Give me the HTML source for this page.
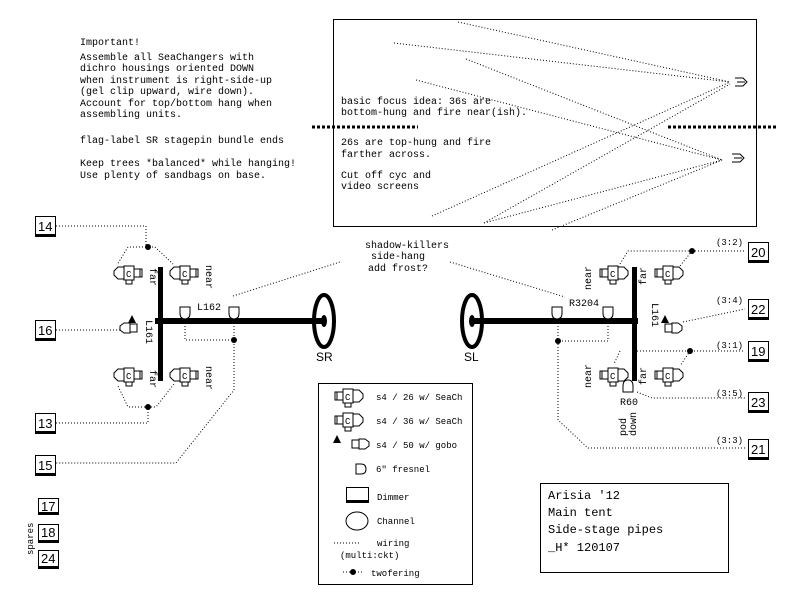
<!DOCTYPE html>
<html><head><style>
body{margin:0;background:#fff}
svg{display:block}
text{font-family:"Liberation Mono",monospace;font-size:10px;fill:#000}
.d{stroke:#000;stroke-width:1;stroke-dasharray:1 2;fill:none}
.s{stroke:#000;fill:#fff;stroke-width:1}
.lg{font-size:9px}
</style></head><body>
<svg width="800" height="600" viewBox="0 0 800 600">
<defs>
<g id="fl">
<path class="s" d="M-16,-2 L-12,-6 L-6,-6 L-6,6 L-12,6 L-16,2 Z"/>
<rect class="s" x="-6" y="-7" width="10" height="14"/>
<rect class="s" x="-4" y="7" width="6" height="4"/>
<rect class="s" x="4" y="-4" width="8" height="8"/>
<line x1="10" y1="-4" x2="10" y2="4" stroke="#000"/>
<text x="-4" y="4" style="font-size:9px">C</text>
</g>
<g id="fr">
<path class="s" d="M16,-2 L12,-6 L6,-6 L6,6 L12,6 L16,2 Z"/>
<rect class="s" x="-4" y="-7" width="10" height="14"/>
<rect class="s" x="-2" y="7" width="6" height="4"/>
<rect class="s" x="-12" y="-4" width="8" height="8"/>
<line x1="-10" y1="-4" x2="-10" y2="4" stroke="#000"/>
<text x="-2" y="4" style="font-size:9px">C</text>
</g>
<g id="fz"><path class="s" d="M-5,-6 L5,-6 L5,0 Q5,6 0,6 Q-5,6 -5,0 Z"/></g>
<g id="gob"><path class="s" d="M-12,-2 L-8,-5 L-2,-5 L-2,5 L-8,5 L-12,2 Z"/><rect class="s" x="-2" y="-4" width="7" height="8"/></g>
</defs>

<text x="80" y="45">Important!</text>
<text x="80" y="60">Assemble all SeaChangers with</text>
<text x="80" y="71">dichro housings oriented DOWN</text>
<text x="80" y="83">when instrument is right-side-up</text>
<text x="80" y="94">(gel clip upward, wire down).</text>
<text x="80" y="106">Account for top/bottom hang when</text>
<text x="80" y="117">assembling units.</text>
<text x="80" y="143">flag-label SR stagepin bundle ends</text>
<text x="80" y="166">Keep trees *balanced* while hanging!</text>
<text x="80" y="178">Use plenty of sandbags on base.</text>

<rect x="333.5" y="19.5" width="423" height="207" fill="none" stroke="#000"/>
<line x1="312" y1="127" x2="418" y2="127" stroke="#000" stroke-width="3" stroke-dasharray="3 2"/>
<line x1="668" y1="127" x2="778" y2="127" stroke="#000" stroke-width="3" stroke-dasharray="3 2"/>
<text x="341" y="104">basic focus idea: 36s are</text>
<text x="341" y="115">bottom-hung and fire near(ish).</text>
<text x="341" y="145">26s are top-hung and fire</text>
<text x="341" y="157">farther across.</text>
<text x="341" y="178">Cut off cyc and</text>
<text x="341" y="189">video screens</text>
<g class="d">
<line x1="458" y1="22" x2="730" y2="82"/>
<line x1="394" y1="43" x2="730" y2="82"/>
<line x1="466" y1="59" x2="722" y2="160"/>
<line x1="416" y1="80" x2="722" y2="160"/>
<line x1="432" y1="216" x2="730" y2="82"/>
<line x1="484" y1="223" x2="730" y2="84"/>
<line x1="484" y1="223" x2="722" y2="160"/>
<line x1="552" y1="230" x2="722" y2="160"/>
</g>
<path d="M735,78 h8 l4,4 l-4,4 h-8 M737,82 h8" fill="none" stroke="#000"/>
<path d="M732,154 h8 l4,4 l-4,4 h-8 M734,158 h8" fill="none" stroke="#000"/>

<g fill="#fff" stroke="#000">
<rect x="35.5" y="216.5" width="20" height="18"/><rect x="35.5" y="320.5" width="20" height="18"/>
<rect x="35.5" y="413.5" width="20" height="18"/><rect x="35.5" y="455.5" width="20" height="18"/>
<rect x="748.5" y="242.5" width="20" height="18"/><rect x="748.5" y="299.5" width="20" height="18"/>
<rect x="748.5" y="341.5" width="20" height="18"/><rect x="748.5" y="392.5" width="20" height="18"/>
<rect x="748.5" y="439.5" width="20" height="18"/>
<rect x="38.5" y="498.5" width="20" height="14"/><rect x="38.5" y="524.5" width="20" height="16"/><rect x="38.5" y="550.5" width="20" height="16"/>
</g>
<g fill="#000">
<rect x="35" y="234" width="21" height="3"/><rect x="35" y="338" width="21" height="3"/>
<rect x="35" y="431" width="21" height="3"/><rect x="35" y="473" width="21" height="3"/>
<rect x="748" y="260" width="21" height="3"/><rect x="748" y="317" width="21" height="3"/>
<rect x="748" y="359" width="21" height="3"/><rect x="748" y="410" width="21" height="3"/>
<rect x="748" y="457" width="21" height="3"/>
<rect x="38" y="512" width="21" height="3"/><rect x="38" y="540" width="21" height="3"/><rect x="38" y="566" width="21" height="3"/>
</g>
<g>
<text x="38" y="231" style="font-family:'Liberation Sans',sans-serif;font-size:13px">14</text>
<text x="38" y="335" style="font-family:'Liberation Sans',sans-serif;font-size:13px">16</text>
<text x="38" y="428" style="font-family:'Liberation Sans',sans-serif;font-size:13px">13</text>
<text x="38" y="470" style="font-family:'Liberation Sans',sans-serif;font-size:13px">15</text>
<text x="751" y="257" style="font-family:'Liberation Sans',sans-serif;font-size:13px">20</text>
<text x="751" y="314" style="font-family:'Liberation Sans',sans-serif;font-size:13px">22</text>
<text x="751" y="356" style="font-family:'Liberation Sans',sans-serif;font-size:13px">19</text>
<text x="751" y="407" style="font-family:'Liberation Sans',sans-serif;font-size:13px">23</text>
<text x="751" y="454" style="font-family:'Liberation Sans',sans-serif;font-size:13px">21</text>
<text x="41" y="511" style="font-family:'Liberation Sans',sans-serif;font-size:13px">17</text>
<text x="41" y="537" style="font-family:'Liberation Sans',sans-serif;font-size:13px">18</text>
<text x="41" y="563" style="font-family:'Liberation Sans',sans-serif;font-size:13px">24</text>
</g>
<text transform="translate(33,555) rotate(-90)" style="font-size:9px">spares</text>

<rect x="158" y="267" width="5" height="114" fill="#000"/>
<rect x="155" y="318" width="170" height="6" fill="#000"/>
<ellipse cx="324" cy="321" rx="10" ry="26" fill="none" stroke="#000" stroke-width="4"/>
<ellipse cx="324" cy="321" rx="3" ry="6" fill="#000"/>
<text x="316" y="361" style="font-family:'Liberation Sans',sans-serif;font-size:12px">SR</text>
<use href="#fl" x="130" y="273"/><use href="#fl" x="186" y="273"/>
<use href="#fl" x="130" y="375"/><use href="#fl" x="186" y="375"/>
<text transform="translate(150,268) rotate(90)">far</text><text transform="translate(206,265) rotate(90)">near</text>
<text transform="translate(150,370) rotate(90)">far</text><text transform="translate(206,366) rotate(90)">near</text>
<use href="#gob" x="132" y="328"/><path d="M128,323 l4,-8 l4,8 z" fill="#000"/>
<text transform="translate(146,320) rotate(90)">L161</text>
<use href="#fz" x="185" y="313"/><use href="#fz" x="234" y="313"/>
<text x="197" y="310">L162</text>
<g class="d">
<path d="M56,226 H146 V247 M146,247 H128 L117,265 M146,247 H155 L173,264"/>
<path d="M56,330 H120"/>
<path d="M56,423 H148 V407 M148,407 H128 L118,386 M148,407 H156 L174,384"/>
<path d="M185,320 V340 H234 M234,320 V340 V390 L176,463 H56"/>
<path d="M233,296 L340,262"/>
</g>
<circle cx="148" cy="247" r="3" fill="#000"/><circle cx="148" cy="407" r="3" fill="#000"/><circle cx="234" cy="340" r="3" fill="#000"/>

<text x="365" y="248">shadow-killers</text>
<text x="371" y="259">side-hang</text>
<text x="368" y="271">add frost?</text>
<path class="d" d="M450,262 L565,297"/>

<ellipse cx="472" cy="321" rx="10" ry="26" fill="none" stroke="#000" stroke-width="4"/>
<rect x="470" y="318" width="168" height="6" fill="#000"/>
<ellipse cx="472" cy="321" rx="3" ry="6" fill="#000"/>
<text x="464" y="361" style="font-family:'Liberation Sans',sans-serif;font-size:12px">SL</text>
<rect x="632" y="267" width="5" height="114" fill="#000"/>
<use href="#fr" x="612" y="273"/><use href="#fr" x="667" y="273"/>
<use href="#fr" x="612" y="375"/><use href="#fr" x="667" y="375"/>
<text transform="translate(591,290) rotate(-90)">near</text><text transform="translate(646,285) rotate(-90)">far</text>
<text transform="translate(591,388) rotate(-90)">near</text><text transform="translate(646,385) rotate(-90)">far</text>
<use href="#gob" transform="translate(670,328) scale(-1,1)"/><path d="M661,323 l4,-8 l4,8 z" fill="#000"/>
<text transform="translate(652,303) rotate(90)">L161</text>
<use href="#fz" x="557" y="313"/><use href="#fz" x="608" y="313"/>
<text x="569" y="306">R3204</text>
<path class="s" d="M623,392 V386 Q623,380 628,380 Q633,380 633,386 V392 Z"/>
<text x="620" y="405">R60</text>
<text transform="translate(636,436) rotate(-90)">down</text><text transform="translate(626,436) rotate(-90)">pod</text>
<g class="d">
<path d="M620,264 L628,251 H692 M692,251 H745 M692,251 L680,266"/>
<path d="M683,322 L745,309"/>
<path d="M637,351 H690 H745 M690,351 L680,366 M620,351 L614,364"/>
<path d="M637,392 L652,398 H745"/>
<path d="M608,320 V341 H558 M558,320 V420 L588,448 H745"/>
</g>
<circle cx="692" cy="251" r="3" fill="#000"/><circle cx="690" cy="351" r="3" fill="#000"/><circle cx="558" cy="341" r="3" fill="#000"/>
<text x="716" y="245" style="font-size:9px">(3:2)</text>
<text x="716" y="303" style="font-size:9px">(3:4)</text>
<text x="716" y="348" style="font-size:9px">(3:1)</text>
<text x="716" y="396" style="font-size:9px">(3:5)</text>
<text x="716" y="443" style="font-size:9px">(3:3)</text>

<rect x="318.5" y="383.5" width="154" height="201" fill="none" stroke="#000"/>
<use href="#fr" x="347" y="396"/><text class="lg" x="376" y="400">s4 / 26 w/ SeaCh</text>
<use href="#fr" x="347" y="420"/><text class="lg" x="376" y="424">s4 / 36 w/ SeaCh</text>
<use href="#gob" transform="translate(357,444) scale(-1,1)"/><path d="M333,443 l4,-8 l4,8 z" fill="#000"/><text class="lg" x="376" y="448">s4 / 50 w/ gobo</text>
<path class="s" d="M356,464 H361 Q366,464 366,469 Q366,474 361,474 H356 Z"/><text class="lg" x="376" y="472">6" fresnel</text>
<rect x="346.5" y="487.5" width="22" height="13" fill="none" stroke="#000"/><rect x="346" y="500" width="23" height="3" fill="#000"/><text class="lg" x="377" y="500">Dimmer</text>
<ellipse cx="357" cy="521" rx="11" ry="9" fill="none" stroke="#000"/><text class="lg" x="377" y="524">Channel</text>
<path class="d" d="M334,543 H360"/><text class="lg" x="377" y="546">wiring</text>
<text class="lg" x="340" y="558">(multi:ckt)</text>
<path class="d" d="M343,572 H363"/><circle cx="353" cy="572" r="3" fill="#000"/><text class="lg" x="371" y="576">twofering</text>

<rect x="540.5" y="483.5" width="188" height="89" fill="none" stroke="#000"/>
<text x="548" y="499" style="font-size:12px">Arisia '12</text>
<text x="548" y="516" style="font-size:12px">Main tent</text>
<text x="548" y="533" style="font-size:12px">Side-stage pipes</text>
<text x="548" y="551" style="font-size:12px">_H* 120107</text>
</svg>
</body></html>
